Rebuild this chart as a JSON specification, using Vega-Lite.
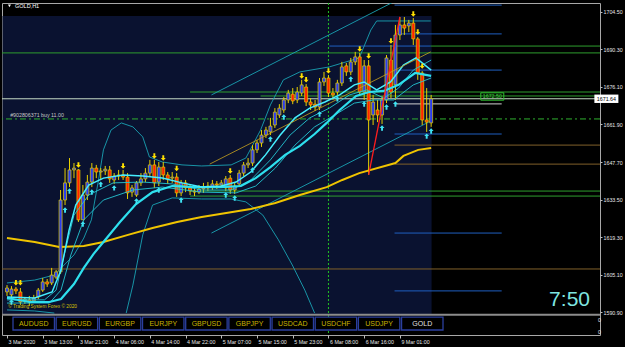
{
  "$schema": "https://vega.github.io/schema/vega-lite/v6.json",
  "width": 598,
  "height": 332,
  "autosize": {"type": "none"},
  "padding": {"left": 2, "top": 3, "right": 25, "bottom": 12},
  "background": "#000000",
  "config": {
    "view": {"stroke": "#a8a8a8", "strokeWidth": 1},
    "axis": {"labelFont": "Liberation Sans", "labelFontSize": 5.3, "labelColor": "#e6e6e6", "tickColor": "#bdbdbd", "domain": false, "grid": false}
  },
  "datasets": {
    "bars": [
      {"i":0,"o":1598.5,"h":1601.1,"l":1597.0,"c":1600.0},
      {"i":1,"o":1597.4,"h":1600.7,"l":1596.2,"c":1599.6},
      {"i":2,"o":1599.6,"h":1600.4,"l":1597.7,"c":1598.9},
      {"i":3,"o":1598.5,"h":1600.0,"l":1593.6,"c":1594.7},
      {"i":4,"o":1595.1,"h":1596.6,"l":1594.0,"c":1595.8},
      {"i":5,"o":1595.5,"h":1597.0,"l":1593.2,"c":1594.7},
      {"i":6,"o":1595.1,"h":1597.4,"l":1594.3,"c":1596.2},
      {"i":7,"o":1596.6,"h":1600.0,"l":1595.8,"c":1599.2},
      {"i":8,"o":1599.2,"h":1603.8,"l":1598.5,"c":1602.3},
      {"i":9,"o":1602.3,"h":1603.4,"l":1600.4,"c":1601.5},
      {"i":10,"o":1601.9,"h":1607.6,"l":1601.1,"c":1604.9},
      {"i":11,"o":1604.1,"h":1606.8,"l":1603.4,"c":1606.1},
      {"i":12,"o":1606.1,"h":1637.1,"l":1605.3,"c":1633.3},
      {"i":13,"o":1633.3,"h":1645.4,"l":1631.4,"c":1639.8},
      {"i":14,"o":1639.8,"h":1649.2,"l":1638.2,"c":1644.7},
      {"i":15,"o":1644.7,"h":1647.3,"l":1641.6,"c":1645.4},
      {"i":16,"o":1644.7,"h":1645.0,"l":1625.0,"c":1625.8},
      {"i":17,"o":1625.8,"h":1639.0,"l":1625.8,"c":1635.2},
      {"i":18,"o":1635.2,"h":1642.8,"l":1633.3,"c":1640.1},
      {"i":19,"o":1640.1,"h":1647.3,"l":1638.2,"c":1645.4},
      {"i":20,"o":1645.4,"h":1646.6,"l":1641.6,"c":1643.9},
      {"i":21,"o":1643.9,"h":1645.4,"l":1640.9,"c":1644.3},
      {"i":22,"o":1644.3,"h":1646.2,"l":1642.8,"c":1645.0},
      {"i":23,"o":1644.7,"h":1646.2,"l":1639.8,"c":1641.3},
      {"i":24,"o":1640.9,"h":1643.5,"l":1639.4,"c":1642.4},
      {"i":25,"o":1642.4,"h":1644.7,"l":1640.9,"c":1642.8},
      {"i":26,"o":1642.8,"h":1644.7,"l":1640.9,"c":1642.0},
      {"i":27,"o":1642.0,"h":1643.5,"l":1633.7,"c":1636.0},
      {"i":28,"o":1636.3,"h":1639.0,"l":1634.5,"c":1637.9},
      {"i":29,"o":1635.2,"h":1640.5,"l":1634.5,"c":1639.8},
      {"i":30,"o":1639.8,"h":1643.5,"l":1638.6,"c":1641.3},
      {"i":31,"o":1641.3,"h":1645.4,"l":1640.1,"c":1643.5},
      {"i":32,"o":1643.5,"h":1648.5,"l":1642.4,"c":1646.6},
      {"i":33,"o":1646.6,"h":1648.5,"l":1637.9,"c":1639.8},
      {"i":34,"o":1640.1,"h":1647.7,"l":1638.6,"c":1645.8},
      {"i":35,"o":1645.8,"h":1647.7,"l":1640.9,"c":1642.8},
      {"i":36,"o":1642.8,"h":1643.9,"l":1639.4,"c":1641.3},
      {"i":37,"o":1641.6,"h":1643.9,"l":1639.8,"c":1642.0},
      {"i":38,"o":1642.0,"h":1643.5,"l":1634.5,"c":1636.0},
      {"i":39,"o":1636.0,"h":1640.9,"l":1634.8,"c":1639.8},
      {"i":40,"o":1639.8,"h":1640.9,"l":1636.3,"c":1637.9},
      {"i":41,"o":1637.9,"h":1639.0,"l":1635.2,"c":1636.7},
      {"i":42,"o":1636.7,"h":1638.2,"l":1634.8,"c":1636.3},
      {"i":43,"o":1636.3,"h":1639.0,"l":1635.6,"c":1637.5},
      {"i":44,"o":1637.5,"h":1639.8,"l":1636.0,"c":1637.9},
      {"i":45,"o":1637.9,"h":1640.1,"l":1636.7,"c":1638.6},
      {"i":46,"o":1638.2,"h":1640.9,"l":1637.1,"c":1639.4},
      {"i":47,"o":1639.4,"h":1640.5,"l":1637.5,"c":1639.0},
      {"i":48,"o":1639.0,"h":1640.9,"l":1637.9,"c":1639.8},
      {"i":49,"o":1637.9,"h":1642.4,"l":1636.7,"c":1641.3},
      {"i":50,"o":1641.6,"h":1642.8,"l":1635.6,"c":1637.1},
      {"i":51,"o":1637.1,"h":1640.1,"l":1635.6,"c":1638.6},
      {"i":52,"o":1639.4,"h":1644.7,"l":1638.6,"c":1643.5},
      {"i":53,"o":1643.5,"h":1647.7,"l":1642.4,"c":1646.6},
      {"i":54,"o":1646.6,"h":1649.2,"l":1645.4,"c":1647.3},
      {"i":55,"o":1647.3,"h":1654.1,"l":1646.2,"c":1652.3},
      {"i":56,"o":1652.3,"h":1656.0,"l":1651.1,"c":1654.9},
      {"i":57,"o":1654.9,"h":1659.8,"l":1653.4,"c":1657.9},
      {"i":58,"o":1657.9,"h":1661.0,"l":1656.8,"c":1659.8},
      {"i":59,"o":1659.1,"h":1664.4,"l":1657.9,"c":1661.3},
      {"i":60,"o":1661.7,"h":1668.1,"l":1660.6,"c":1666.6},
      {"i":61,"o":1665.5,"h":1669.6,"l":1664.4,"c":1668.1},
      {"i":62,"o":1667.4,"h":1672.3,"l":1666.3,"c":1671.2},
      {"i":63,"o":1671.2,"h":1675.0,"l":1670.0,"c":1673.8},
      {"i":64,"o":1673.4,"h":1675.7,"l":1669.6,"c":1670.8},
      {"i":65,"o":1671.2,"h":1676.1,"l":1670.0,"c":1674.2},
      {"i":66,"o":1673.8,"h":1678.8,"l":1672.7,"c":1676.9},
      {"i":67,"o":1676.1,"h":1677.2,"l":1668.9,"c":1670.4},
      {"i":68,"o":1670.4,"h":1671.9,"l":1667.4,"c":1669.3},
      {"i":69,"o":1669.6,"h":1671.2,"l":1667.0,"c":1668.5},
      {"i":70,"o":1668.5,"h":1679.5,"l":1667.4,"c":1678.0},
      {"i":71,"o":1678.0,"h":1681.8,"l":1676.5,"c":1679.5},
      {"i":72,"o":1679.5,"h":1680.6,"l":1672.3,"c":1673.8},
      {"i":73,"o":1673.8,"h":1675.7,"l":1671.2,"c":1673.1},
      {"i":74,"o":1674.2,"h":1678.8,"l":1673.1,"c":1677.6},
      {"i":75,"o":1677.6,"h":1685.6,"l":1676.5,"c":1683.7},
      {"i":76,"o":1684.1,"h":1685.2,"l":1680.3,"c":1681.8},
      {"i":77,"o":1681.8,"h":1687.1,"l":1680.6,"c":1685.6},
      {"i":78,"o":1685.6,"h":1689.4,"l":1684.4,"c":1687.5},
      {"i":79,"o":1687.5,"h":1689.0,"l":1672.7,"c":1674.2},
      {"i":80,"o":1674.2,"h":1686.3,"l":1671.2,"c":1684.1},
      {"i":81,"o":1684.1,"h":1686.3,"l":1642.8,"c":1663.6},
      {"i":82,"o":1665.5,"h":1673.1,"l":1661.7,"c":1670.4},
      {"i":83,"o":1667.4,"h":1671.2,"l":1662.8,"c":1665.5},
      {"i":84,"o":1665.5,"h":1672.7,"l":1662.1,"c":1671.2},
      {"i":85,"o":1671.2,"h":1688.2,"l":1670.0,"c":1687.1},
      {"i":86,"o":1686.3,"h":1692.0,"l":1671.9,"c":1674.2},
      {"i":87,"o":1676.9,"h":1699.6,"l":1671.2,"c":1695.8},
      {"i":88,"o":1695.8,"h":1702.6,"l":1693.9,"c":1699.6},
      {"i":89,"o":1699.6,"h":1702.6,"l":1695.8,"c":1698.4},
      {"i":90,"o":1699.2,"h":1701.5,"l":1696.9,"c":1700.3},
      {"i":91,"o":1700.3,"h":1702.2,"l":1692.0,"c":1694.3},
      {"i":92,"o":1694.3,"h":1695.0,"l":1678.8,"c":1681.4},
      {"i":93,"o":1681.4,"h":1682.1,"l":1661.7,"c":1663.6},
      {"i":94,"o":1663.6,"h":1675.7,"l":1659.1,"c":1662.8},
      {"i":95,"o":1662.5,"h":1673.1,"l":1661.0,"c":1671.64}
    ],
    "lines": [
      {"s":"Y","i":0,"p":1618.9},{"s":"Y","i":6.2,"p":1617.4},{"s":"Y","i":11.7,"p":1615.5},{"s":"Y","i":17.2,"p":1615.9},{"s":"Y","i":21.6,"p":1617.4},{"s":"Y","i":27.1,"p":1620.1},{"s":"Y","i":32.6,"p":1622.7},{"s":"Y","i":38.1,"p":1625.0},{"s":"Y","i":43.6,"p":1626.9},{"s":"Y","i":49.1,"p":1628.4},{"s":"Y","i":54.6,"p":1629.9},{"s":"Y","i":60.1,"p":1632.2},{"s":"Y","i":65.6,"p":1635.2},{"s":"Y","i":71.6,"p":1638.2},{"s":"Y","i":75.1,"p":1640.9},{"s":"Y","i":78.9,"p":1643.5},{"s":"Y","i":87.0,"p":1647.3},{"s":"Y","i":88.8,"p":1650.0},{"s":"Y","i":92.1,"p":1652.3},{"s":"Y","i":95.0,"p":1653.0},
      {"s":"C","i":0,"p":1596.2},{"s":"C","i":5.1,"p":1594.7},{"s":"C","i":9.5,"p":1594.7},{"s":"C","i":12.1,"p":1595.8},{"s":"C","i":15.0,"p":1601.5},{"s":"C","i":17.2,"p":1607.6},{"s":"C","i":19.4,"p":1612.9},{"s":"C","i":21.6,"p":1617.4},{"s":"C","i":25.3,"p":1625.0},{"s":"C","i":28.9,"p":1631.8},{"s":"C","i":32.6,"p":1636.3},{"s":"C","i":37.0,"p":1638.6},{"s":"C","i":42.5,"p":1638.2},{"s":"C","i":48.0,"p":1638.2},{"s":"C","i":52.4,"p":1638.6},{"s":"C","i":55.7,"p":1641.6},{"s":"C","i":59.0,"p":1645.8},{"s":"C","i":62.3,"p":1650.4},{"s":"C","i":65.6,"p":1653.8},{"s":"C","i":68.9,"p":1658.3},{"s":"C","i":71.6,"p":1662.5},{"s":"C","i":74.5,"p":1667.4},{"s":"C","i":78.2,"p":1672.7},{"s":"C","i":81.1,"p":1674.2},{"s":"C","i":84.4,"p":1674.6},{"s":"C","i":87.7,"p":1676.9},{"s":"C","i":91.4,"p":1681.4},{"s":"C","i":95.0,"p":1680.3},
      {"s":"F","i":0,"p":1596.6},{"s":"F","i":6.2,"p":1596.2},{"s":"F","i":10.1,"p":1598.5},{"s":"F","i":12.1,"p":1606.8},{"s":"F","i":13.9,"p":1621.9},{"s":"F","i":15.4,"p":1631.4},{"s":"F","i":18.3,"p":1639.0},{"s":"F","i":21.6,"p":1641.6},{"s":"F","i":26.0,"p":1642.8},{"s":"F","i":30.4,"p":1642.4},{"s":"F","i":34.8,"p":1641.6},{"s":"F","i":39.2,"p":1639.8},{"s":"F","i":43.6,"p":1638.2},{"s":"F","i":48.0,"p":1638.6},{"s":"F","i":51.3,"p":1640.1},{"s":"F","i":54.6,"p":1643.9},{"s":"F","i":57.9,"p":1650.4},{"s":"F","i":61.2,"p":1657.9},{"s":"F","i":64.5,"p":1664.4},{"s":"F","i":67.8,"p":1668.1},{"s":"F","i":71.2,"p":1670.4},{"s":"F","i":74.5,"p":1673.1},{"s":"F","i":77.8,"p":1676.9},{"s":"F","i":80.0,"p":1678.0},{"s":"F","i":82.8,"p":1675.0},{"s":"F","i":85.9,"p":1678.0},{"s":"F","i":88.8,"p":1684.4},{"s":"F","i":91.6,"p":1687.1},{"s":"F","i":95.0,"p":1682.5},
      {"s":"R1","i":0,"p":1595.5},{"s":"R1","i":8.4,"p":1595.5},{"s":"R1","i":11.0,"p":1599.2},{"s":"R1","i":12.8,"p":1612.5},{"s":"R1","i":15.0,"p":1627.6},{"s":"R1","i":18.3,"p":1635.2},{"s":"R1","i":23.8,"p":1639.8},{"s":"R1","i":30.4,"p":1640.1},{"s":"R1","i":37.0,"p":1639.4},{"s":"R1","i":43.6,"p":1637.1},{"s":"R1","i":50.2,"p":1637.1},{"s":"R1","i":54.6,"p":1640.9},{"s":"R1","i":59.0,"p":1648.5},{"s":"R1","i":63.4,"p":1657.9},{"s":"R1","i":67.8,"p":1664.4},{"s":"R1","i":72.2,"p":1668.1},{"s":"R1","i":76.7,"p":1673.1},{"s":"R1","i":80.6,"p":1675.0},{"s":"R1","i":84.4,"p":1671.9},{"s":"R1","i":87.7,"p":1675.7},{"s":"R1","i":91.0,"p":1682.5},{"s":"R1","i":95.0,"p":1686.3},
      {"s":"R2","i":0,"p":1594.3},{"s":"R2","i":9.5,"p":1594.3},{"s":"R2","i":12.1,"p":1599.2},{"s":"R2","i":14.3,"p":1612.5},{"s":"R2","i":17.2,"p":1625.8},{"s":"R2","i":21.6,"p":1633.3},{"s":"R2","i":28.2,"p":1637.1},{"s":"R2","i":34.8,"p":1638.2},{"s":"R2","i":43.6,"p":1636.3},{"s":"R2","i":51.3,"p":1636.0},{"s":"R2","i":55.7,"p":1638.6},{"s":"R2","i":60.1,"p":1645.4},{"s":"R2","i":64.5,"p":1654.1},{"s":"R2","i":68.9,"p":1661.0},{"s":"R2","i":73.4,"p":1665.5},{"s":"R2","i":77.8,"p":1670.0},{"s":"R2","i":82.2,"p":1671.2},{"s":"R2","i":86.6,"p":1671.2},{"s":"R2","i":91.0,"p":1676.9},{"s":"R2","i":95.0,"p":1679.5},
      {"s":"BU","i":0,"p":1601.9},{"s":"BU","i":6.2,"p":1603.0},{"s":"BU","i":10.6,"p":1604.9},{"s":"BU","i":15.0,"p":1612.5},{"s":"BU","i":17.2,"p":1618.9},{"s":"BU","i":18.9,"p":1625.8},{"s":"BU","i":20.5,"p":1640.9},{"s":"BU","i":21.6,"p":1652.3},{"s":"BU","i":23.3,"p":1659.8},{"s":"BU","i":25.6,"p":1662.5},{"s":"BU","i":28.2,"p":1661.0},{"s":"BU","i":30.4,"p":1657.2},{"s":"BU","i":31.9,"p":1649.6},{"s":"BU","i":34.8,"p":1647.7},{"s":"BU","i":39.2,"p":1646.6},{"s":"BU","i":43.6,"p":1646.2},{"s":"BU","i":50.2,"p":1646.6},{"s":"BU","i":53.5,"p":1649.2},{"s":"BU","i":56.8,"p":1659.8},{"s":"BU","i":59.0,"p":1669.3},{"s":"BU","i":61.9,"p":1678.8},{"s":"BU","i":65.6,"p":1681.8},{"s":"BU","i":72.2,"p":1683.7},{"s":"BU","i":78.9,"p":1687.1},{"s":"BU","i":81.5,"p":1697.7},{"s":"BU","i":82.8,"p":1701.1},{"s":"BU","i":94.9,"p":1701.1},
      {"s":"BL1","i":0,"p":1591.7},{"s":"BL1","i":6.2,"p":1591.3},{"s":"BL1","i":10.6,"p":1590.5},
      {"s":"BL2","i":26.7,"p":1590.5},{"s":"BL2","i":28.2,"p":1601.1},{"s":"BL2","i":30.4,"p":1620.1},{"s":"BL2","i":32.6,"p":1631.4},{"s":"BL2","i":37.0,"p":1634.1},{"s":"BL2","i":43.6,"p":1633.7},{"s":"BL2","i":50.2,"p":1633.7},{"s":"BL2","i":53.5,"p":1632.6},{"s":"BL2","i":57.3,"p":1627.6},{"s":"BL2","i":60.8,"p":1618.2},{"s":"BL2","i":63.9,"p":1608.7},{"s":"BL2","i":66.7,"p":1599.2},{"s":"BL2","i":68.9,"p":1590.5},
      {"s":"U","i":45.8,"p":1673.1},{"s":"U","i":94.9,"p":1715.5},
      {"s":"L","i":45.8,"p":1620.8},{"s":"L","i":94.9,"p":1663.2},
      {"s":"M","i":45.4,"p":1646.9},{"s":"M","i":94.9,"p":1689.4},
      {"s":"RZ","i":81,"p":1642.8},{"s":"RZ","i":88,"p":1702.6}
    ],
    "arrows": [
      {"i":2,"p":1602.0,"dir":"down"},{"i":3,"p":1602.0,"dir":"down"},{"i":16,"p":1646.6,"dir":"down"},{"i":26,"p":1646.2,"dir":"down"},{"i":33,"p":1650.0,"dir":"down"},{"i":35,"p":1649.2,"dir":"down"},{"i":38,"p":1645.2,"dir":"down"},{"i":50,"p":1644.3,"dir":"down"},{"i":66,"p":1680.3,"dir":"down"},{"i":67,"p":1678.8,"dir":"down"},{"i":72,"p":1682.2,"dir":"down"},{"i":79,"p":1690.5,"dir":"down"},{"i":81,"p":1687.8,"dir":"down"},{"i":86,"p":1693.5,"dir":"down"},{"i":91,"p":1703.7,"dir":"down"},{"i":92,"p":1696.9,"dir":"down"},{"i":93,"p":1684.0,"dir":"down"},
      {"i":1,"p":1594.7,"dir":"up"},{"i":13,"p":1629.5,"dir":"up"},{"i":14,"p":1636.7,"dir":"up"},{"i":17,"p":1624.2,"dir":"up"},{"i":19,"p":1636.3,"dir":"up"},{"i":21,"p":1639.3,"dir":"up"},{"i":24,"p":1637.9,"dir":"up"},{"i":29,"p":1632.9,"dir":"up"},{"i":34,"p":1637.1,"dir":"up"},{"i":39,"p":1633.3,"dir":"up"},{"i":49,"p":1635.2,"dir":"up"},{"i":51,"p":1634.1,"dir":"up"},{"i":55,"p":1644.7,"dir":"up"},{"i":59,"p":1656.4,"dir":"up"},{"i":62,"p":1664.7,"dir":"up"},{"i":70,"p":1665.9,"dir":"up"},{"i":74,"p":1671.6,"dir":"up"},{"i":77,"p":1679.1,"dir":"up"},{"i":80,"p":1669.7,"dir":"up"},{"i":84,"p":1660.6,"dir":"up"},{"i":85,"p":1668.5,"dir":"up"},{"i":87,"p":1669.7,"dir":"up"},{"i":94,"p":1657.5,"dir":"up"},{"i":95,"p":1659.4,"dir":"up"}
    ],
    "levels": [
      {"k":"blue","p":1707.1,"a":86.8,"b":110.8},
      {"k":"blue","p":1696.2,"a":86.8,"b":110.8},
      {"k":"blue","p":1691.6,"a":72.2,"b":94.9},
      {"k":"green","p":1691.6,"a":94.9,"b":134},
      {"k":"green","p":1689.0,"a":-2,"b":134},
      {"k":"blue","p":1682.5,"a":86.8,"b":110.8},
      {"k":"green","p":1674.2,"a":41.0,"b":134},
      {"k":"green","p":1672.7,"a":56.8,"b":134},
      {"k":"gray","p":1669.7,"a":86.8,"b":110.8},
      {"k":"blue","p":1658.3,"a":86.8,"b":110.8},
      {"k":"brown","p":1654.1,"a":86.8,"b":134},
      {"k":"brown","p":1646.9,"a":86.8,"b":134},
      {"k":"green","p":1636.7,"a":41.0,"b":134},
      {"k":"green","p":1634.8,"a":41.0,"b":134},
      {"k":"blue","p":1620.8,"a":86.8,"b":110.8},
      {"k":"brown","p":1607.2,"a":-2,"b":134},
      {"k":"blue","p":1598.9,"a":86.8,"b":110.8}
    ],
    "buttons": [
      {"sym":"AUDUSD"},{"sym":"EURUSD"},{"sym":"EURGBP"},{"sym":"EURJPY"},{"sym":"GBPUSD"},{"sym":"GBPJPY"},{"sym":"USDCAD"},{"sym":"USDCHF"},{"sym":"USDJPY"},{"sym":"GOLD"}
    ]
  },
  "resolve": {"scale": {"x": "independent", "y": "independent"}},
  "layer": [
    {
      "layer": [
        {
          "data": {"values": [{"a": -1, "b": 95.1, "top": 1703.0, "bottom": 1590.1}]},
          "mark": {"type": "rect", "fill": "#0a1230", "clip": true},
          "encoding": {
            "x": {"field": "a", "type": "quantitative", "title": null,
                  "scale": {"domain": [0, 131.7], "nice": false, "zero": false},
                  "axis": {"values": [0,8,16,24,32,40,48,56,64,72,80,88],
                           "labelExpr": "['3 Mar 2020','3 Mar 13:00','3 Mar 21:00','4 Mar 06:00','4 Mar 14:00','4 Mar 22:00','5 Mar 07:00','5 Mar 15:00','5 Mar 23:00','6 Mar 08:00','6 Mar 16:00','9 Mar 01:00'][round(datum.value/8)]",
                           "labelAlign": "left", "labelBaseline": "top", "labelPadding": 1, "labelOffset": 1, "tickSize": 3,
                           "labelOverlap": false, "labelFlush": false, "labelBound": false, "title": null}},
            "x2": {"field": "b"},
            "y": {"field": "top", "type": "quantitative", "title": null,
                  "scale": {"domain": [1582.2, 1707.9], "nice": false, "zero": false},
                  "axis": {"orient": "right",
                           "values": [1704.5,1697.3,1690.3,1683.1,1676.1,1668.9,1661.9,1654.7,1647.7,1640.5,1633.5,1626.3,1619.3,1612.1,1605.1,1597.9,1590.9],
                           "format": ".2f", "tickSize": 2, "labelPadding": 1, "labelBaseline": "middle",
                           "labelOverlap": false, "labelFlush": false, "labelBound": false, "title": null}},
            "y2": {"field": "bottom"}
          }
        },
        {
          "data": {"name": "levels"},
          "mark": {"type": "rule", "strokeWidth": 1, "clip": true},
          "encoding": {
            "x": {"field": "a", "type": "quantitative", "title": null},
            "x2": {"field": "b"},
            "y": {"field": "p", "type": "quantitative", "title": null},
            "color": {"field": "k", "type": "nominal", "legend": null,
                      "scale": {"domain": ["green","blue","brown","gray"], "range": ["#2e9e2e","#1f5fc0","#80602a","#d0d0d0"]}}
          }
        },
        {
          "data": {"values": [{"p": 1671.64}]},
          "mark": {"type": "rule", "color": "#c8dcc8", "strokeWidth": 1},
          "encoding": {"y": {"field": "p", "type": "quantitative", "title": null}}
        },
        {
          "data": {"values": [{"p": 1664.0}]},
          "mark": {"type": "rule", "color": "#2fb02f", "strokeWidth": 1, "strokeDash": [6, 3, 2, 3]},
          "encoding": {"y": {"field": "p", "type": "quantitative", "title": null}}
        },
        {
          "data": {"values": [{"i": 72}]},
          "mark": {"type": "rule", "color": "#22c422", "strokeWidth": 1, "strokeDash": [2, 2]},
          "encoding": {"x": {"field": "i", "type": "quantitative", "title": null}}
        },
        {
          "data": {"values": [{"p": 1589.9}]},
          "mark": {"type": "rule", "color": "#8c8c8c", "strokeWidth": 2},
          "encoding": {"y": {"field": "p", "type": "quantitative", "title": null}}
        },
        {
          "data": {"name": "lines"},
          "transform": [{"filter": "indexof(['BU','BL1','BL2','U','L'], datum.s) >= 0"}],
          "mark": {"type": "line", "color": "#1aa3b3", "strokeWidth": 0.9, "clip": true},
          "encoding": {
            "x": {"field": "i", "type": "quantitative", "title": null},
            "y": {"field": "p", "type": "quantitative", "title": null},
            "detail": {"field": "s"}
          }
        },
        {
          "data": {"name": "lines"},
          "transform": [{"filter": "datum.s === 'Y'"}],
          "mark": {"type": "line", "color": "#f0c400", "strokeWidth": 2, "clip": true},
          "encoding": {
            "x": {"field": "i", "type": "quantitative", "title": null},
            "y": {"field": "p", "type": "quantitative", "title": null}
          }
        },
        {
          "data": {"name": "bars"},
          "mark": {"type": "rule", "color": "#e8d000", "strokeWidth": 1},
          "encoding": {
            "x": {"field": "i", "type": "quantitative", "title": null},
            "y": {"field": "l", "type": "quantitative", "title": null},
            "y2": {"field": "h"}
          }
        },
        {
          "data": {"name": "bars"},
          "mark": {"type": "bar", "width": 3, "stroke": "#e8d000", "strokeWidth": 0.7},
          "encoding": {
            "x": {"field": "i", "type": "quantitative", "title": null},
            "y": {"field": "o", "type": "quantitative", "title": null},
            "y2": {"field": "c"},
            "color": {"condition": {"test": "datum.c >= datum.o", "value": "#2a3cf0"}, "value": "#ff2200"}
          }
        },
        {
          "data": {"name": "lines"},
          "transform": [{"filter": "datum.s === 'R1' || datum.s === 'R2'"}],
          "mark": {"type": "line", "color": "#25c6d2", "strokeWidth": 0.9, "clip": true},
          "encoding": {
            "x": {"field": "i", "type": "quantitative", "title": null},
            "y": {"field": "p", "type": "quantitative", "title": null},
            "detail": {"field": "s"}
          }
        },
        {
          "data": {"name": "lines"},
          "transform": [{"filter": "datum.s === 'C'"}],
          "mark": {"type": "line", "color": "#2ee0ee", "strokeWidth": 2.2, "clip": true},
          "encoding": {
            "x": {"field": "i", "type": "quantitative", "title": null},
            "y": {"field": "p", "type": "quantitative", "title": null}
          }
        },
        {
          "data": {"name": "lines"},
          "transform": [{"filter": "datum.s === 'F'"}],
          "mark": {"type": "line", "color": "#45eeff", "strokeWidth": 1.5, "clip": true},
          "encoding": {
            "x": {"field": "i", "type": "quantitative", "title": null},
            "y": {"field": "p", "type": "quantitative", "title": null}
          }
        },
        {
          "data": {"name": "lines"},
          "transform": [{"filter": "datum.s === 'M'"}],
          "mark": {"type": "line", "color": "#c8a21e", "strokeWidth": 0.8, "clip": true},
          "encoding": {
            "x": {"field": "i", "type": "quantitative", "title": null},
            "y": {"field": "p", "type": "quantitative", "title": null}
          }
        },
        {
          "data": {"name": "lines"},
          "transform": [{"filter": "datum.s === 'RZ'"}],
          "mark": {"type": "line", "color": "#ff1e1e", "strokeWidth": 1.3, "clip": true},
          "encoding": {
            "x": {"field": "i", "type": "quantitative", "title": null},
            "y": {"field": "p", "type": "quantitative", "title": null}
          }
        },
        {
          "data": {"name": "arrows"},
          "transform": [{"filter": "datum.dir === 'down'"}],
          "mark": {"type": "point", "filled": true, "opacity": 1, "size": 30, "color": "#ffe000",
                   "shape": "M0,1L0.9,0L0.35,0L0.35,-1L-0.35,-1L-0.35,0L-0.9,0Z"},
          "encoding": {
            "x": {"field": "i", "type": "quantitative", "title": null},
            "y": {"field": "p", "type": "quantitative", "title": null}
          }
        },
        {
          "data": {"name": "arrows"},
          "transform": [{"filter": "datum.dir === 'up'"}],
          "mark": {"type": "point", "filled": true, "opacity": 1, "size": 30, "color": "#3fe2f2",
                   "shape": "M0,-1L0.9,0L0.35,0L0.35,1L-0.35,1L-0.35,0L-0.9,0Z"},
          "encoding": {
            "x": {"field": "i", "type": "quantitative", "title": null},
            "y": {"field": "p", "type": "quantitative", "title": null}
          }
        },
        {
          "data": {"values": [{"i": 0.55, "p": 1706.8}]},
          "mark": {"type": "point", "shape": "triangle-down", "filled": true, "opacity": 1, "size": 9, "color": "#ffffff"},
          "encoding": {
            "x": {"field": "i", "type": "quantitative", "title": null},
            "y": {"field": "p", "type": "quantitative", "title": null}
          }
        },
        {
          "data": {"values": [{"t": "GOLD,H1", "i": 1.8, "p": 1706.8}]},
          "mark": {"type": "text", "font": "Liberation Sans", "fontSize": 5.5, "color": "#ffffff", "align": "left", "baseline": "middle"},
          "encoding": {
            "x": {"field": "i", "type": "quantitative", "title": null},
            "y": {"field": "p", "type": "quantitative", "title": null},
            "text": {"field": "t"}
          }
        },
        {
          "data": {"values": [{"t": "#902806371 buy 11.00", "i": 0.7, "p": 1665.6}]},
          "mark": {"type": "text", "font": "Liberation Sans", "fontSize": 5.3, "color": "#c8c8c8", "align": "left", "baseline": "middle"},
          "encoding": {
            "x": {"field": "i", "type": "quantitative", "title": null},
            "y": {"field": "p", "type": "quantitative", "title": null},
            "text": {"field": "t"}
          }
        },
        {
          "data": {"values": [{"t": "© Trading System Forex © 2020", "i": 0.3, "p": 1592.8}]},
          "mark": {"type": "text", "font": "Liberation Sans", "fontSize": 4.8, "color": "#d8c400", "align": "left", "baseline": "middle"},
          "encoding": {
            "x": {"field": "i", "type": "quantitative", "title": null},
            "y": {"field": "p", "type": "quantitative", "title": null},
            "text": {"field": "t"}
          }
        },
        {
          "data": {"values": [{"t": "7:50", "i": 126.0, "p": 1595.5}]},
          "mark": {"type": "text", "font": "Liberation Sans", "fontSize": 21, "color": "#7fe6e0", "align": "center", "baseline": "middle"},
          "encoding": {
            "x": {"field": "i", "type": "quantitative", "title": null},
            "y": {"field": "p", "type": "quantitative", "title": null},
            "text": {"field": "t"}
          }
        },
        {
          "data": {"values": [{"t": "0", "i": 131.7, "p": 1587.7}, {"t": "0", "i": 131.7, "p": 1583.3}]},
          "mark": {"type": "text", "font": "Liberation Sans", "fontSize": 5.3, "color": "#e6e6e6", "align": "left", "baseline": "middle", "dx": 3},
          "encoding": {
            "x": {"field": "i", "type": "quantitative", "title": null},
            "y": {"field": "p", "type": "quantitative", "title": null},
            "text": {"field": "t"}
          }
        },
        {
          "data": {"values": [{"t": "1672.50", "i": 108.7, "p": 1672.5}]},
          "mark": {"type": "point", "filled": false, "opacity": 1, "size": 529, "color": "#2fc02f", "strokeWidth": 1,
                   "shape": "M-1,-0.32H1V0.32H-1Z"},
          "encoding": {
            "x": {"field": "i", "type": "quantitative", "title": null},
            "y": {"field": "p", "type": "quantitative", "title": null}
          }
        },
        {
          "data": {"values": [{"t": "1672.50", "i": 108.7, "p": 1672.5}]},
          "mark": {"type": "text", "font": "Liberation Sans", "fontSize": 5.3, "color": "#3ad03a", "align": "center", "baseline": "middle"},
          "encoding": {
            "x": {"field": "i", "type": "quantitative", "title": null},
            "y": {"field": "p", "type": "quantitative", "title": null},
            "text": {"field": "t"}
          }
        },
        {
          "data": {"values": [{"t": "1671.64", "i": 134.25, "p": 1671.64}]},
          "mark": {"type": "point", "filled": true, "opacity": 1, "size": 576, "color": "#ffffff", "strokeWidth": 0,
                   "shape": "M-1,-0.35H1V0.35H-1Z"},
          "encoding": {
            "x": {"field": "i", "type": "quantitative", "title": null},
            "y": {"field": "p", "type": "quantitative", "title": null}
          }
        },
        {
          "data": {"values": [{"t": "1671.64", "i": 134.25, "p": 1671.64}]},
          "mark": {"type": "text", "font": "Liberation Sans", "fontSize": 5.3, "color": "#000000", "align": "center", "baseline": "middle"},
          "encoding": {
            "x": {"field": "i", "type": "quantitative", "title": null},
            "y": {"field": "p", "type": "quantitative", "title": null},
            "text": {"field": "t"}
          }
        }
      ]
    },
    {
      "data": {"name": "buttons"},
      "layer": [
        {
          "mark": {"type": "rect", "fill": "#000000", "stroke": "#2b3f9e", "strokeWidth": 1.3},
          "encoding": {
            "x": {"field": "sym", "type": "nominal", "axis": null,
                  "scale": {"domain": ["AUDUSD","EURUSD","EURGBP","EURJPY","GBPUSD","GBPJPY","USDCAD","USDCHF","USDJPY","GOLD"],
                            "range": [11, 441], "paddingInner": 0.04, "paddingOuter": 0}},
            "y": {"datum": 1589.0, "type": "quantitative", "axis": null,
                  "scale": {"domain": [1582.2, 1707.9], "nice": false, "zero": false}},
            "y2": {"datum": 1584.1}
          }
        },
        {
          "mark": {"type": "text", "font": "Liberation Sans", "fontSize": 7, "baseline": "middle", "align": "center"},
          "encoding": {
            "x": {"field": "sym", "type": "nominal", "axis": null},
            "y": {"datum": 1586.5, "type": "quantitative", "axis": null},
            "text": {"field": "sym"},
            "color": {"condition": {"test": "datum.sym === 'GOLD'", "value": "#e0e0e0"}, "value": "#c8b400"}
          }
        }
      ]
    }
  ]
}
